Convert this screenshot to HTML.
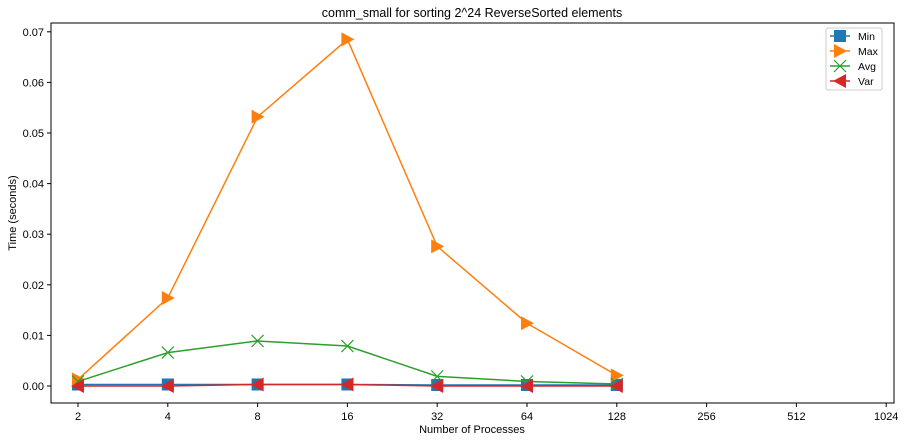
<!DOCTYPE html>
<html><head><meta charset="utf-8"><style>
body{margin:0;background:#fff;font-family:"Liberation Sans",sans-serif}
svg text{font-family:"Liberation Sans",sans-serif;fill:#000}
</style></head><body>
<svg id="c" width="907" height="441" xmlns="http://www.w3.org/2000/svg"></svg>
<script>
const categories=[2,4,8,16,32,64,128];
const xTicks=[2,4,8,16,32,64,128,256,512,1024];
const yTicks=[0,0.01,0.02,0.03,0.04,0.05,0.06,0.07];
const minVals=[0.0003,0.0003,0.0003,0.0003,0.0002,0.0002,0.0002];
const maxVals=[0.0013,0.0174,0.0532,0.0685,0.0276,0.0124,0.0021];
const avgVals=[0.0009,0.0066,0.0089,0.0079,0.0019,0.0009,0.0004];
const varVals=[0.0000,0.0000,0.0003,0.0003,0.0000,0.0000,0.0000];
const L=51,R=894,T=23,B=403;
function xs(v){return 78+(Math.log2(v)-1)*89.8;}
function ys(v){return 386-v*5060;}
const svg=document.getElementById('c');const NS='http://www.w3.org/2000/svg';
function mk(t,a,p){const e=document.createElementNS(NS,t);for(const k in a)e.setAttribute(k,a[k]);(p||svg).appendChild(e);return e;}
const frame=mk('rect',{x:L,y:T,width:R-L,height:B-T,fill:'none',stroke:'#000','stroke-width':1});

xTicks.forEach(v=>{const x=xs(v);mk('line',{x1:x,x2:x,y1:B,y2:B+4,stroke:'#000'});
const t=mk('text',{x:x,y:B+17,'font-size':11,'text-anchor':'middle'});t.textContent=v;
});
yTicks.forEach(v=>{const y=ys(v);mk('line',{x1:L-4,x2:L,y1:y,y2:y,stroke:'#000'});
const t=mk('text',{x:L-7,y:y+4,'font-size':11,'text-anchor':'end'});t.textContent=v.toFixed(2);
});
let t=mk('text',{x:472,y:17,'font-size':12.5,'text-anchor':'middle'});t.textContent='comm_small for sorting 2^24 ReverseSorted elements';

t=mk('text',{x:472,y:433,'font-size':11,'text-anchor':'middle'});t.textContent='Number of Processes';

t=mk('text',{x:16,y:213,'font-size':11,'text-anchor':'middle',transform:'rotate(-90 16 213)'});t.textContent='Time (seconds)';

function marker(kind,x,y,c,g){
 if(kind==='s')mk('rect',{x:x-6,y:y-6,width:12,height:12,fill:c},g);
 else if(kind==='r')mk('polygon',{points:`${x-6},${y-7} ${x+7},${y} ${x-6},${y+7}`,fill:c},g);
 else if(kind==='l')mk('polygon',{points:`${x+6},${y-7} ${x-7},${y} ${x+6},${y+7}`,fill:c},g);
 else{mk('path',{d:`M${x-6} ${y-6}L${x+6} ${y+6}M${x-6} ${y+6}L${x+6} ${y-6}`,stroke:c,'stroke-width':1.2},g);}
}
const series=[['min',minVals,'#1f77b4','s'],['max',maxVals,'#ff7f0e','r'],['avg',avgVals,'#2ca02c','x'],['var',varVals,'#d62728','l']];
series.forEach(([n,vals,c,k])=>{const g=mk('g',{});

mk('polyline',{points:categories.map((v,i)=>xs(v)+','+ys(vals[i])).join(' '),fill:'none',stroke:c,'stroke-width':1.5},g);
categories.forEach((v,i)=>marker(k,xs(v),ys(vals[i]),c,g));});
const lg=mk('g',{});
mk('rect',{x:826,y:28,width:56,height:62,fill:'#fff',stroke:'#ccc',rx:2},lg);
['Min','Max','Avg','Var'].forEach((n,i)=>{const y=36+i*15;const [_,__,c,k]=series[i];
const e=mk('g',{},lg);
mk('line',{x1:830,x2:850,y1:y,y2:y,stroke:c,'stroke-width':1.5},e);marker(k,840,y,c,e);
const tt=mk('text',{x:858,y:y+4,'font-size':10.5},e);tt.textContent=n;});
</script>
</body></html>
